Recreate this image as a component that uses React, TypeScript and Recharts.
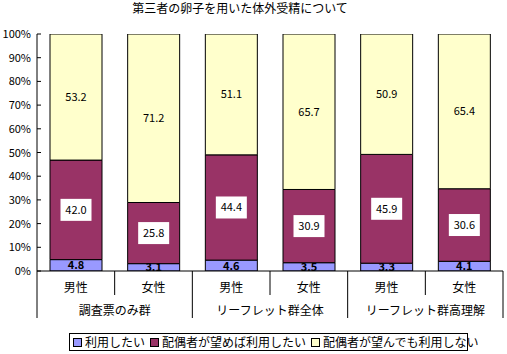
import React from 'react';
import { BarChart, Bar, XAxis, YAxis, LabelList } from 'recharts';

const title = '第三者の卵子を用いた体外受精について';
const categories = ['男性', '女性', '男性', '女性', '男性', '女性'];
const groups = ['調査票のみ群', 'リーフレット群全体', 'リーフレット群高理解'];
const seriesNames = ['利用したい', '配偶者が望めば利用したい', '配偶者が望んでも利用しない'];
const seriesColors = ['#9999FF', '#993366', '#FFFFCC'];
const wantUse = [4.8, 3.1, 4.6, 3.5, 3.3, 4.1];
const ifSpouse = [42.0, 25.8, 44.4, 30.9, 45.9, 30.6];
const notUse = [53.2, 71.2, 51.1, 65.7, 50.9, 65.4];
const yTicks = [0, 10, 20, 30, 40, 50, 60, 70, 80, 90, 100];

const data = categories.map((c, i) => ({
  id: `${i}`,
  sex: c,
  wantUse: wantUse[i],
  ifSpouse: ifSpouse[i],
  notUse: notUse[i],
}));

const FONT = "'Noto Sans CJK JP', 'Noto Sans', sans-serif";

const XTick = (props: any) => {
  const { x, y, payload } = props;
  const i = payload.index ?? props.index;
  const half = payload.offset ?? 38.8;
  const left = x - half;
  const first = i % 2 === 0;
  return (
    <g>
      <text x={x} y={y + 17} dy={4} textAnchor="middle" fontSize={12} fontFamily={FONT} fill="#000">
        {categories[i]}
      </text>
      <line x1={left} x2={left} y1={y} y2={first ? y + 47 : y + 24} stroke="#000" strokeWidth={1} />
      {first && (
        <text x={x + half} y={y + 40} dy={4} textAnchor="middle" fontSize={12} fontFamily={FONT} fill="#000">
          {groups[Math.floor(i / 2)]}
        </text>
      )}
      {i === categories.length - 1 && (
        <line x1={x + half} x2={x + half} y1={y} y2={y + 47} stroke="#000" strokeWidth={1} />
      )}
    </g>
  );
};

const YTick = (props: any) => {
  const { x, y, payload } = props;
  return (
    <g>
      <line x1={x} x2={x + 4} y1={y} y2={y} stroke="#000" strokeWidth={1} />
      <text x={x - 6} y={y} dy={4} textAnchor="end" fontSize={11} fontFamily={FONT} fill="#000">
        {`${payload.value}%`}
      </text>
    </g>
  );
};

const fmt = (v: any) => Number(v).toFixed(1);

const BlueLabel = (props: any) => {
  const { x, y, width, height, value } = props;
  return (
    <text x={x + width / 2} y={y + height / 2} dy={4} textAnchor="middle" fontSize={11} fontWeight="bold" fontFamily={FONT} fill="#000">
      {fmt(value)}
    </text>
  );
};

const MaroonLabel = (props: any) => {
  const { x, y, width, height, value } = props;
  const cx = x + width / 2;
  const cy = y + height / 2;
  return (
    <g>
      <rect x={cx - 15.5} y={cy - 11} width={31} height={22} fill="#fff" />
      <text x={cx} y={cy} dy={4} textAnchor="middle" fontSize={11} fontFamily={FONT} fill="#000">
        {fmt(value)}
      </text>
    </g>
  );
};

const YellowLabel = (props: any) => {
  const { x, y, width, height, value } = props;
  return (
    <text x={x + width / 2} y={y + height / 2} dy={4} textAnchor="middle" fontSize={11} fontFamily={FONT} fill="#000">
      {fmt(value)}
    </text>
  );
};

export default function App() {
  return (
    <div style={{ position: 'absolute', left: 0, top: 0, width: 507, height: 354, background: '#fff', fontFamily: FONT }}>
      <div style={{ position: 'absolute', left: 0, width: 480, top: 0, textAlign: 'center', fontSize: 12, lineHeight: '15px', color: '#000' }}>
        {title}
      </div>
      <BarChart
        width={507}
        height={354}
        data={data}
        margin={{ top: 34, right: 4, left: 0, bottom: 0 }}
        barSize={52}
      >
        <XAxis
          dataKey="id"
          height={83}
          tickSize={0}
          tickMargin={0}
          tickLine={false}
          axisLine={{ stroke: '#000' }}
          tick={<XTick />}
          interval={0}
        />
        <YAxis
          width={37}
          domain={[0, 100]}
          ticks={yTicks}
          allowDataOverflow
          tickSize={0}
          tickMargin={0}
          tickLine={false}
          axisLine={{ stroke: '#000' }}
          tick={<YTick />}
          interval={0}
        />
        <Bar dataKey="wantUse" name={seriesNames[0]} stackId="a" fill={seriesColors[0]} stroke="#000" strokeWidth={1} isAnimationActive={false}>
          <LabelList dataKey="wantUse" content={<BlueLabel />} />
        </Bar>
        <Bar dataKey="ifSpouse" name={seriesNames[1]} stackId="a" fill={seriesColors[1]} stroke="#000" strokeWidth={1} isAnimationActive={false}>
          <LabelList dataKey="ifSpouse" content={<MaroonLabel />} />
        </Bar>
        <Bar dataKey="notUse" name={seriesNames[2]} stackId="a" fill={seriesColors[2]} stroke="#000" strokeWidth={1} isAnimationActive={false}>
          <LabelList dataKey="notUse" content={<YellowLabel />} />
        </Bar>
      </BarChart>
      <div
        style={{
          position: 'absolute',
          left: 69,
          top: 333,
          width: 399,
          height: 18,
          boxSizing: 'border-box',
          border: '1px solid #000',
          display: 'flex',
          alignItems: 'center',
          paddingLeft: 3,
          fontSize: 12,
          lineHeight: '16px',
          color: '#000',
          whiteSpace: 'nowrap',
        }}
      >
        {seriesNames.map((n, i) => (
          <div key={n} style={{ display: 'flex', alignItems: 'center', marginRight: 5 }}>
            <span style={{ display: 'inline-block', width: 7, height: 7, border: '1px solid #000', background: seriesColors[i], marginRight: 3 }} />
            <span>{n}</span>
          </div>
        ))}
      </div>
    </div>
  );
}
